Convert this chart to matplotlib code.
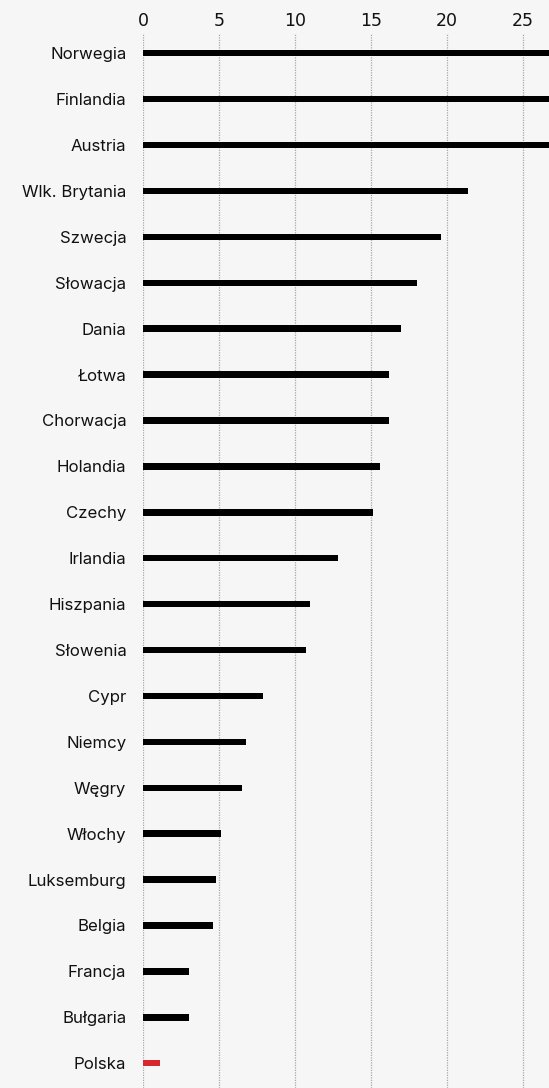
import matplotlib
matplotlib.use("Agg")
import matplotlib.pyplot as plt

countries = ["Norwegia", "Finlandia", "Austria", "Wlk. Brytania", "Szwecja", "Słowacja",
             "Dania", "Łotwa", "Chorwacja", "Holandia", "Czechy", "Irlandia", "Hiszpania",
             "Słowenia", "Cypr", "Niemcy", "Węgry", "Włochy", "Luksemburg", "Belgia",
             "Francja", "Bułgaria", "Polska"]
values = [34.0, 31.0, 29.0, 21.4, 19.6, 18.0, 17.0, 16.2, 16.2, 15.6, 15.1, 12.8, 11.0,
          10.7, 7.9, 6.8, 6.5, 5.1, 4.8, 4.6, 3.0, 3.0, 1.1]
xticks = [0, 5, 10, 15, 20, 25]

bg = "#f6f6f6"
colors = ["#d7282f" if c == "Polska" else "#000000" for c in countries]

fig = plt.figure(figsize=(5.49, 10.88), dpi=100, facecolor=bg)
ax = fig.add_axes([143/549, 0.0, 1 - 143/549, 1 - 33/1088])
ax.set_facecolor(bg)

ypos = list(range(len(countries)))
ax.barh(ypos, values, height=0.14, color=colors, zorder=3)

ax.set_xlim(0, (549 - 143) / 15.2)
ax.set_ylim(len(countries) - 1 + 0.54, -0.44)
ax.set_xticks(xticks)
ax.set_xticklabels([str(t) for t in xticks], family="DejaVu Sans", fontsize=12.5)
ax.xaxis.tick_top()
ax.tick_params(axis="x", length=0, pad=2.5, colors="#111111")
ax.set_yticks(ypos)
ax.set_yticklabels(countries, family="Inter", fontsize=12.1, color="#111111")
ax.tick_params(axis="y", length=0, pad=12)

ax.grid(axis="x", linestyle=(0, (1, 1)), color="#a8a8a8", linewidth=0.9, zorder=0)
ax.grid(axis="y", visible=False)
for s in ax.spines.values():
    s.set_visible(False)

fig.savefig("out.png", dpi=100, facecolor=bg)
